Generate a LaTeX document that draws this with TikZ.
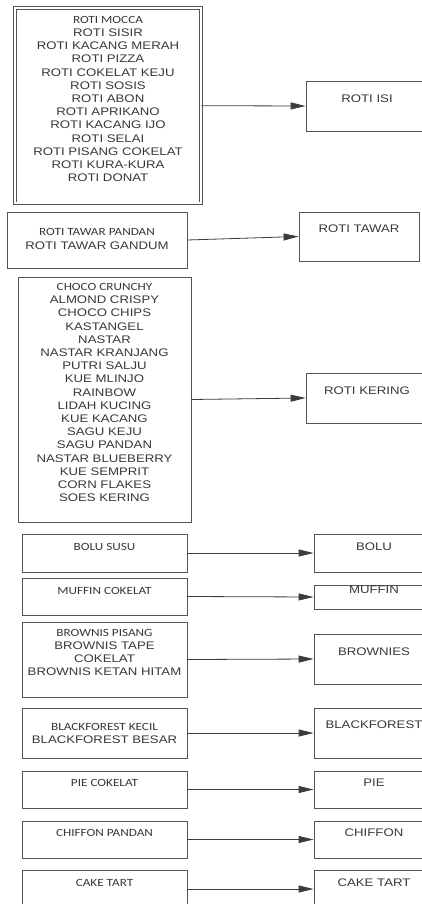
\documentclass[tikz,border=0pt]{standalone}
\usepackage{fontspec}
\setmainfont{Liberation Sans}[FakeStretch=1.2]
\newfontfamily\calibrifont{Carlito}[FakeStretch=1.2]
\usetikzlibrary{arrows.meta,positioning}
\definecolor{boxedge}{RGB}{85,85,85}
\definecolor{itemgray}{RGB}{55,55,55}
\definecolor{arrowgray}{RGB}{60,60,60}
\newcommand{\firstitem}[1]{{\calibrifont #1}}

\begin{document}
\begin{tikzpicture}[
  x=1pt,y=-1pt,
  font=\fontsize{11}{13.2}\selectfont,
  arrow/.style={-{Triangle[length=15pt,width=7pt]},line width=0.8pt,draw=arrowgray},
  box/.style={draw=boxedge,line width=0.8pt,inner sep=0pt},
  itembox/.style={box,minimum width=165pt},
  kindbox/.style={box,minimum width=120pt},
  itemtext/.style={align=center,text=itemgray,inner sep=0pt}
]
\useasboundingbox (0,0) rectangle (422,904);
\clip (0,0) rectangle (422,904);

% Roti isi.
\node[box,double,double distance=2pt,minimum width=186pt,minimum height=195.3pt] (isiItems) at (108,105.7) {};
\node[itemtext] (isiList) at (108,99) {\firstitem{ROTI MOCCA}\\
  ROTI SISIR\\ ROTI KACANG MERAH\\ ROTI PIZZA\\ ROTI COKELAT KEJU\\
  ROTI SOSIS\\ ROTI ABON\\ ROTI APRIKANO\\ ROTI KACANG IJO\\ ROTI SELAI\\
  ROTI PISANG COKELAT\\ ROTI KURA-KURA\\ ROTI DONAT};
\node[box,minimum width=122pt,minimum height=50pt] (isi) at (367,106) {};
\node[itemtext] (isiName) at (367,99) {ROTI ISI};
\draw[arrow] (isiItems.east) -- (isi.west);

% Roti tawar.
\node[box,minimum width=180pt,minimum height=56pt] (tawarItems) at (97,240) {};
\node[itemtext] (tawarList) at (97,239) {\firstitem{ROTI TAWAR PANDAN}\\ ROTI TAWAR GANDUM};
\node[box,minimum width=120pt,minimum height=49pt] (tawar) at (359,236.5) {};
\node[itemtext] (tawarName) at (359,229) {ROTI TAWAR};
\draw[arrow] (tawarItems.east) -- (tawar.west);

% Roti kering.
\node[box,minimum width=173pt,minimum height=245pt] (keringItems) at (104.5,399.5) {};
\node[itemtext] (keringList) at (104.5,392.5) {\firstitem{CHOCO CRUNCHY}\\
  ALMOND CRISPY\\ CHOCO CHIPS\\ KASTANGEL\\ NASTAR\\ NASTAR KRANJANG\\
  PUTRI SALJU\\ KUE MLINJO\\ RAINBOW\\ LIDAH KUCING\\ KUE KACANG\\
  SAGU KEJU\\ SAGU PANDAN\\ NASTAR BLUEBERRY\\ KUE SEMPRIT\\
  CORN FLAKES\\ SOES KERING};
\node[box,minimum width=122pt,minimum height=50pt] (kering) at (367,398) {};
\node[itemtext] (keringName) at (367,391) {ROTI KERING};
\draw[arrow] (keringItems.east) -- (kering.west);

% Bolu.
\node[itembox,minimum height=38pt] (boluItems) at (104.5,553) {};
\node[itemtext] (boluList) at (104.5,547) {\firstitem{BOLU SUSU}};
\node[kindbox,minimum height=38pt] (bolu) at (374,553) {};
\node[itemtext] (boluName) at (374,547) {BOLU};
\draw[arrow] (boluItems.east) -- (bolu.west);

% Muffin.
\node[itembox,minimum height=37pt] (muffinItems) at (104.5,596.5) {};
\node[itemtext] (muffinList) at (104.5,591) {\firstitem{MUFFIN COKELAT}};
\node[kindbox,minimum height=24pt] (muffin) at (374,597) {};
\node[itemtext] (muffinName) at (374,590) {MUFFIN};
\draw[arrow] (muffinItems.east) -- (muffin.west);

% Brownies.
\node[itembox,minimum height=75pt] (browniesItems) at (104.5,659.5) {};
\node[itemtext] (browniesList) at (104.5,652.5) {\firstitem{BROWNIS PISANG}\\
  BROWNIS TAPE\\ COKELAT\\ BROWNIS KETAN HITAM};
\node[kindbox,minimum height=50pt] (brownies) at (374,659) {};
\node[itemtext] (browniesName) at (374,652) {BROWNIES};
\draw[arrow] (browniesItems.east) -- (brownies.west);

% Blackforest.
\node[itembox,minimum height=50pt] (blackItems) at (104.5,733) {};
\node[itemtext] (blackList) at (104.5,733.5) {\firstitem{BLACKFOREST KECIL}\\ BLACKFOREST BESAR};
\node[kindbox,minimum height=50pt] (black) at (374,733) {};
\node[itemtext] (blackName) at (374,725) {BLACKFOREST};
\draw[arrow] (blackItems.east) -- (black.west);

% Pie.
\node[itembox,minimum height=37pt] (pieItems) at (104.5,789.5) {};
\node[itemtext] (pieList) at (104.5,783) {\firstitem{PIE COKELAT}};
\node[kindbox,minimum height=37pt] (pie) at (374,789.5) {};
\node[itemtext] (pieName) at (374,783) {PIE};
\draw[arrow] (pieItems.east) -- (pie.west);

% Chiffon.
\node[itembox,minimum height=37pt] (chiffonItems) at (104.5,839.5) {};
\node[itemtext] (chiffonList) at (104.5,833) {\firstitem{CHIFFON PANDAN}};
\node[kindbox,minimum height=37pt] (chiffon) at (374,839.5) {};
\node[itemtext] (chiffonName) at (374,833) {CHIFFON};
\draw[arrow] (chiffonItems.east) -- (chiffon.west);

% Cake tart.
\node[itembox,minimum height=38pt] (tartItems) at (104.5,889) {};
\node[itemtext] (tartList) at (104.5,883) {\firstitem{CAKE TART}};
\node[kindbox,minimum height=38pt] (tart) at (374,889) {};
\node[itemtext] (tartName) at (374,883) {CAKE TART};
\draw[arrow] (tartItems.east) -- (tart.west);
\end{tikzpicture}
\end{document}
